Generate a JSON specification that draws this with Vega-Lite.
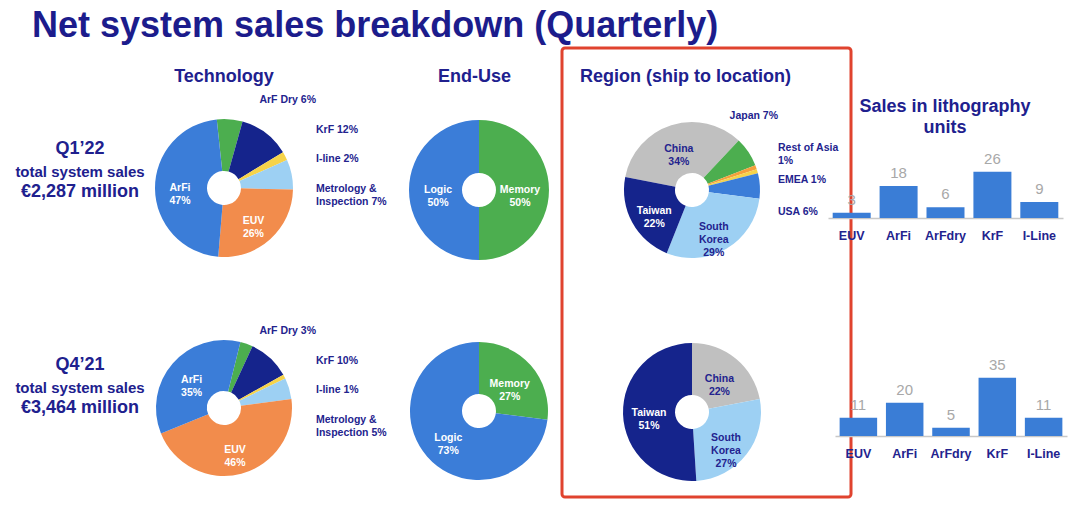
{
  "$schema": "https://vega.github.io/schema/vega-lite/v6.json",
  "background": "white",
  "padding": {"left": 5, "top": 7, "right": 5, "bottom": 5},
  "title": {"text": "Net system sales breakdown (Quarterly)", "anchor": "start", "frame": "group", "fontSize": 36, "dx": 27, "offset": 2, "color": "#1c1c8c"},
  "config": {
    "view": {"stroke": null},
    "font": "Liberation Sans",
    "title": {"font": "Liberation Sans", "fontWeight": "bold", "color": "#20208e", "fontSize": 18},
    "text": {"font": "Liberation Sans"}
  },
  "resolve": {"scale": {"color": "independent", "theta": "independent"}},
  "bounds": "flush",
  "spacing": 0,
  "hconcat": [
    {
      "width": 150, "height": 449,
      "data": {"values": [{"q": "Q1’22", "sales": "€2,287 million"}, {"q": "Q4’21", "sales": "€3,464 million"}]},
      "encoding": {"y": {"field": "q", "type": "nominal", "scale": {"type": "point", "domain": ["Q1’22", "Q4’21"], "padding": 0.5394, "align": 0.5322}, "axis": null}},
      "layer": [
        {"mark": {"type": "text", "fontSize": 18, "fontWeight": "bold", "color": "#20208e", "dy": -23, "baseline": "middle"}, "encoding": {"text": {"field": "q"}}},
        {"mark": {"type": "text", "fontSize": 15, "fontWeight": "bold", "color": "#20208e", "dy": 0, "baseline": "middle"}, "encoding": {"text": {"value": "total system sales"}}},
        {"mark": {"type": "text", "fontSize": 18, "fontWeight": "bold", "color": "#20208e", "dy": 20, "baseline": "middle"}, "encoding": {"text": {"field": "sales"}}}
      ]
    },
    {
      "width": 150, "height": 449,
      "title": {"text": "Technology", "anchor": "middle", "frame": "group", "offset": -38, "dx": -6},
      "data": {"values": [
        {"q": "Q1’22", "cat": "ArF Dry", "pct": 6, "ord": 1, "inL": "", "outL": "ArF Dry 6%"},
        {"q": "Q1’22", "cat": "KrF", "pct": 12, "ord": 2, "inL": "", "outL": "KrF 12%"},
        {"q": "Q1’22", "cat": "I-line", "pct": 2, "ord": 3, "inL": "", "outL": "I-line 2%"},
        {"q": "Q1’22", "cat": "Metrology & Inspection", "pct": 7, "ord": 4, "inL": "", "outL": "Metrology &\nInspection 7%"},
        {"q": "Q1’22", "cat": "EUV", "pct": 26, "ord": 5, "inL": "EUV\n26%", "outL": ""},
        {"q": "Q1’22", "cat": "ArFi", "pct": 47, "ord": 6, "inL": "ArFi\n47%", "outL": ""},
        {"q": "Q4’21", "cat": "ArF Dry", "pct": 3, "ord": 1, "inL": "", "outL": "ArF Dry 3%"},
        {"q": "Q4’21", "cat": "KrF", "pct": 10, "ord": 2, "inL": "", "outL": "KrF 10%"},
        {"q": "Q4’21", "cat": "I-line", "pct": 1, "ord": 3, "inL": "", "outL": "I-line 1%"},
        {"q": "Q4’21", "cat": "Metrology & Inspection", "pct": 5, "ord": 4, "inL": "", "outL": "Metrology &\nInspection 5%"},
        {"q": "Q4’21", "cat": "EUV", "pct": 46, "ord": 5, "inL": "EUV\n46%", "outL": ""},
        {"q": "Q4’21", "cat": "ArFi", "pct": 35, "ord": 6, "inL": "ArFi\n35%", "outL": ""}
      ]},
      "encoding": {
        "x": {"datum": "c", "type": "nominal", "scale": {"type": "point", "padding": 0, "align": 0.46}, "axis": null},
        "y": {"field": "q", "type": "nominal", "scale": {"type": "point", "domain": ["Q1’22", "Q4’21"], "padding": 0.52045, "align": 0.61135}, "axis": null}
      },
      "resolve": {"scale": {"theta": "independent", "y": "independent"}},
      "layer": [
        {
          "transform": [{"filter": "datum.q == 'Q1’22'"}],
          "mark": {"type": "arc", "radius": 69, "radius2": 17},
          "encoding": {
            "theta": {"field": "pct", "type": "quantitative", "stack": true, "scale": {"domain": [0, 100], "range": [-0.1047, 6.1785]}},
            "order": {"field": "ord", "type": "quantitative"},
            "color": {"field": "cat", "type": "nominal", "legend": null, "scale": {"domain": ["ArF Dry", "KrF", "I-line", "Metrology & Inspection", "EUV", "ArFi"], "range": ["#4cae4f", "#15248c", "#f6d34a", "#9dd0f3", "#f28c4c", "#3b7dd8"]}}
          }
        },
        {
          "transform": [{"filter": "datum.q == 'Q4’21'"}],
          "mark": {"type": "arc", "radius": 68, "radius2": 17},
          "encoding": {
            "theta": {"field": "pct", "type": "quantitative", "stack": true, "scale": {"domain": [0, 100], "range": [0.2443, 6.5275]}},
            "order": {"field": "ord", "type": "quantitative"},
            "color": {"field": "cat", "type": "nominal", "legend": null}
          }
        },
        {
          "transform": [{"filter": "datum.q == 'Q1’22'"}],
          "mark": {"type": "text", "radius": 44, "fontSize": 10.5, "fontWeight": "bold", "lineBreak": "\n", "lineHeight": 13, "align": "center", "baseline": "middle", "color": "white"},
          "encoding": {
            "theta": {"field": "pct", "type": "quantitative", "stack": true, "scale": {"domain": [0, 100], "range": [-0.1047, 6.1785]}},
            "order": {"field": "ord", "type": "quantitative"},
            "detail": {"field": "cat"},
            "text": {"field": "inL"}
          }
        },
        {
          "transform": [{"filter": "datum.q == 'Q4’21'"}],
          "mark": {"type": "text", "radius": 43, "fontSize": 10.5, "fontWeight": "bold", "lineBreak": "\n", "lineHeight": 13, "align": "center", "baseline": "middle", "color": "white"},
          "encoding": {
            "theta": {"field": "pct", "type": "quantitative", "stack": true, "scale": {"domain": [0, 100], "range": [0.2443, 6.5275]}},
            "order": {"field": "ord", "type": "quantitative"},
            "detail": {"field": "cat"},
            "text": {"field": "inL"}
          }
        },
        {
          "transform": [{"filter": "datum.q == 'Q1’22' && datum.outL != '' && datum.ord == 1"}],
          "mark": {"type": "text", "dx": 92, "fontSize": 10.5, "fontWeight": "bold", "lineBreak": "\n", "lineHeight": 13, "align": "right", "baseline": "middle", "color": "#23238e"},
          "encoding": {
            "y": {"field": "ord", "type": "quantitative", "scale": {"domain": [-0.763, 14.458], "reverse": true, "nice": false, "zero": false}, "axis": null},
            "text": {"field": "outL"}
          }
        },
        {
          "transform": [{"filter": "datum.q == 'Q1’22' && datum.outL != '' && datum.ord > 1"}],
          "mark": {"type": "text", "dx": 92, "fontSize": 10.5, "fontWeight": "bold", "lineBreak": "\n", "lineHeight": 13, "align": "left", "baseline": "middle", "color": "#23238e"},
          "encoding": {
            "y": {"field": "ord", "type": "quantitative", "scale": {"domain": [-0.763, 14.458], "reverse": true, "nice": false, "zero": false}, "axis": null},
            "text": {"field": "outL"}
          }
        },
        {
          "transform": [{"filter": "datum.q == 'Q4’21' && datum.outL != '' && datum.ord == 1"}],
          "mark": {"type": "text", "dx": 92, "fontSize": 10.5, "fontWeight": "bold", "lineBreak": "\n", "lineHeight": 13, "align": "right", "baseline": "middle", "color": "#23238e"},
          "encoding": {
            "y": {"field": "ord", "type": "quantitative", "scale": {"domain": [-8.593, 6.627], "reverse": true, "nice": false, "zero": false}, "axis": null},
            "text": {"field": "outL"}
          }
        },
        {
          "transform": [{"filter": "datum.q == 'Q4’21' && datum.outL != '' && datum.ord > 1"}],
          "mark": {"type": "text", "dx": 92, "fontSize": 10.5, "fontWeight": "bold", "lineBreak": "\n", "lineHeight": 13, "align": "left", "baseline": "middle", "color": "#23238e"},
          "encoding": {
            "y": {"field": "ord", "type": "quantitative", "scale": {"domain": [-8.593, 6.627], "reverse": true, "nice": false, "zero": false}, "axis": null},
            "text": {"field": "outL"}
          }
        }
      ]
    },
    {
      "width": 257, "height": 449,
      "title": {"text": "End-Use", "anchor": "middle", "frame": "group", "offset": -38, "dx": 41},
      "data": {"values": [
        {"q": "Q1’22", "cat": "Memory", "pct": 50, "ord": 1, "inL": "Memory\n50%"},
        {"q": "Q1’22", "cat": "Logic", "pct": 50, "ord": 2, "inL": "Logic\n50%"},
        {"q": "Q4’21", "cat": "Memory", "pct": 27, "ord": 1, "inL": "Memory\n27%"},
        {"q": "Q4’21", "cat": "Logic", "pct": 73, "ord": 2, "inL": "Logic\n73%"}
      ]},
      "encoding": {
        "x": {"datum": "c", "type": "nominal", "scale": {"type": "point", "padding": 0, "align": 0.677}, "axis": null},
        "y": {"field": "q", "type": "nominal", "scale": {"type": "point", "domain": ["Q1’22", "Q4’21"], "padding": 0.51584, "align": 0.62281}, "axis": null}
      },
      "layer": [
        {
          "transform": [{"filter": "datum.q == 'Q1’22'"}],
          "mark": {"type": "arc", "radius": 70, "radius2": 17},
          "encoding": {
            "theta": {"field": "pct", "type": "quantitative", "stack": true, "scale": {"domain": [0, 100]}},
            "order": {"field": "ord", "type": "quantitative"},
            "color": {"field": "cat", "type": "nominal", "legend": null, "scale": {"domain": ["Memory", "Logic"], "range": ["#4cae4f", "#3b7dd8"]}}
          }
        },
        {
          "transform": [{"filter": "datum.q == 'Q4’21'"}],
          "mark": {"type": "arc", "radius": 69, "radius2": 17},
          "encoding": {
            "theta": {"field": "pct", "type": "quantitative", "stack": true},
            "order": {"field": "ord", "type": "quantitative"},
            "color": {"field": "cat", "type": "nominal", "legend": null}
          }
        },
        {
          "transform": [{"filter": "datum.q == 'Q1’22'"}],
          "mark": {"type": "text", "radius": 41, "fontSize": 10.5, "fontWeight": "bold", "lineBreak": "\n", "lineHeight": 13, "align": "center", "baseline": "middle", "color": "white"},
          "encoding": {
            "theta": {"field": "pct", "type": "quantitative", "stack": true},
            "order": {"field": "ord", "type": "quantitative"},
            "detail": {"field": "cat"},
            "text": {"field": "inL"}
          }
        },
        {
          "transform": [{"filter": "datum.q == 'Q4’21'"}],
          "mark": {"type": "text", "radius": 41, "fontSize": 10.5, "fontWeight": "bold", "lineBreak": "\n", "lineHeight": 13, "align": "center", "baseline": "middle", "color": "white"},
          "encoding": {
            "theta": {"field": "pct", "type": "quantitative", "stack": true},
            "order": {"field": "ord", "type": "quantitative"},
            "detail": {"field": "cat"},
            "text": {"field": "inL"}
          }
        }
      ]
    },
    {
      "width": 289, "height": 449,
      "view": {"stroke": "#e0432e", "strokeWidth": 3, "cornerRadius": 3},
      "title": {"text": "Region (ship to location)", "anchor": "start", "frame": "group", "offset": -38, "dx": 18},
      "data": {"values": [
        {"q": "Q1’22", "cat": "China", "pct": 34, "ord": 1, "inL": "China\n34%", "outL": ""},
        {"q": "Q1’22", "cat": "Japan", "pct": 7, "ord": 2, "inL": "", "outL": "Japan 7%"},
        {"q": "Q1’22", "cat": "Rest of Asia", "pct": 1, "ord": 3, "inL": "", "outL": "Rest of Asia\n1%"},
        {"q": "Q1’22", "cat": "EMEA", "pct": 1, "ord": 4, "inL": "", "outL": "EMEA 1%"},
        {"q": "Q1’22", "cat": "USA", "pct": 6, "ord": 5, "inL": "", "outL": "USA 6%"},
        {"q": "Q1’22", "cat": "South Korea", "pct": 29, "ord": 6, "inL": "South\nKorea\n29%", "outL": ""},
        {"q": "Q1’22", "cat": "Taiwan", "pct": 22, "ord": 7, "inL": "Taiwan\n22%", "outL": ""},
        {"q": "Q4’21", "cat": "China", "pct": 22, "ord": 1, "inL": "China\n22%", "outL": ""},
        {"q": "Q4’21", "cat": "South Korea", "pct": 27, "ord": 6, "inL": "South\nKorea\n27%", "outL": ""},
        {"q": "Q4’21", "cat": "Taiwan", "pct": 51, "ord": 7, "inL": "Taiwan\n51%", "outL": ""}
      ]},
      "encoding": {
        "x": {"datum": "c", "type": "nominal", "scale": {"type": "point", "padding": 0, "align": 0.4498}, "axis": null},
        "y": {"field": "q", "type": "nominal", "scale": {"type": "point", "domain": ["Q1’22", "Q4’21"], "padding": 0.51126, "align": 0.6256}, "axis": null}
      },
      "resolve": {"scale": {"theta": "independent", "y": "independent"}},
      "layer": [
        {
          "transform": [{"filter": "datum.q == 'Q1’22'"}],
          "mark": {"type": "arc", "radius": 68, "radius2": 17},
          "encoding": {
            "theta": {"field": "pct", "type": "quantitative", "stack": true, "scale": {"domain": [0, 100], "range": [-1.3788, 4.9044]}},
            "order": {"field": "ord", "type": "quantitative"},
            "color": {"field": "cat", "type": "nominal", "legend": null, "scale": {"domain": ["China", "Japan", "Rest of Asia", "EMEA", "USA", "South Korea", "Taiwan"], "range": ["#c0c0c0", "#4cae4f", "#f5a03c", "#f6d34a", "#3b7dd8", "#9dd0f3", "#15248c"]}}
          }
        },
        {
          "transform": [{"filter": "datum.q == 'Q4’21'"}],
          "mark": {"type": "arc", "radius": 69, "radius2": 17},
          "encoding": {
            "theta": {"field": "pct", "type": "quantitative", "stack": true, "scale": {"domain": [0, 100], "range": [0, 6.2832]}},
            "order": {"field": "ord", "type": "quantitative"},
            "color": {"field": "cat", "type": "nominal", "legend": null}
          }
        },
        {
          "transform": [{"filter": "datum.q == 'Q1’22'"}],
          "mark": {"type": "text", "radius": 43, "fontSize": 10.5, "fontWeight": "bold", "lineBreak": "\n", "lineHeight": 13, "align": "center", "baseline": "middle"},
          "encoding": {
            "theta": {"field": "pct", "type": "quantitative", "stack": true, "scale": {"domain": [0, 100], "range": [-1.3788, 4.9044]}},
            "order": {"field": "ord", "type": "quantitative"},
            "detail": {"field": "cat"},
            "text": {"field": "inL"},
            "color": {"condition": {"test": "datum.cat == 'Taiwan'", "value": "white"}, "value": "#23238e"}
          }
        },
        {
          "transform": [{"filter": "datum.q == 'Q4’21'"}],
          "mark": {"type": "text", "radius": 43, "fontSize": 10.5, "fontWeight": "bold", "lineBreak": "\n", "lineHeight": 13, "align": "center", "baseline": "middle"},
          "encoding": {
            "theta": {"field": "pct", "type": "quantitative", "stack": true, "scale": {"domain": [0, 100], "range": [0, 6.2832]}},
            "order": {"field": "ord", "type": "quantitative"},
            "detail": {"field": "cat"},
            "text": {"field": "inL"},
            "color": {"condition": {"test": "datum.cat == 'Taiwan'", "value": "white"}, "value": "#23238e"}
          }
        },
        {
          "transform": [{"filter": "datum.outL != '' && datum.ord == 2"}],
          "mark": {"type": "text", "dx": 86, "fontSize": 10.5, "fontWeight": "bold", "lineBreak": "\n", "lineHeight": 13, "align": "right", "baseline": "middle", "color": "#23238e"},
          "encoding": {
            "y": {"field": "ord", "type": "quantitative", "scale": {"domain": [-0.125, 13.906], "reverse": true, "nice": false, "zero": false}, "axis": null},
            "text": {"field": "outL"}
          }
        },
        {
          "transform": [{"filter": "datum.outL != '' && datum.ord > 2"}],
          "mark": {"type": "text", "dx": 86, "fontSize": 10.5, "fontWeight": "bold", "lineBreak": "\n", "lineHeight": 13, "align": "left", "baseline": "middle", "color": "#23238e"},
          "encoding": {
            "y": {"field": "ord", "type": "quantitative", "scale": {"domain": [-0.125, 13.906], "reverse": true, "nice": false, "zero": false}, "axis": null},
            "text": {"field": "outL"}
          }
        }
      ]
    },
    {
      "bounds": "flush",
      "spacing": 48,
      "vconcat": [
        {
          "width": 212, "height": 170,
          "title": {"text": ["Sales in lithography", "units"], "anchor": "middle", "frame": "group", "offset": -89, "lineHeight": 21, "dx": -12},
          "data": {"values": [
            {"tool": "EUV", "units": 3}, {"tool": "ArFi", "units": 18}, {"tool": "ArFdry", "units": 6}, {"tool": "KrF", "units": 26}, {"tool": "I-Line", "units": 9}
          ]},
          "encoding": {
            "x": {"field": "tool", "type": "nominal", "sort": null, "scale": {"paddingInner": 0.19, "paddingOuter": 0.1, "range": [-23, 212]}, "axis": {"title": null, "labelAngle": 0, "ticks": false, "tickSize": 0, "labelPadding": 11, "labelFontSize": 12.5, "labelFontWeight": "bold", "labelColor": "#23238e", "labelFont": "Liberation Sans", "domainColor": "#c8c8c8", "domainWidth": 1.5}},
            "y": {"field": "units", "type": "quantitative", "scale": {"domain": [0, 95.5], "nice": false}, "axis": null}
          },
          "layer": [
            {"mark": {"type": "bar", "color": "#3a7dd6"}},
            {"mark": {"type": "text", "dy": -13, "baseline": "middle", "fontSize": 15, "color": "#a8a8a8"}, "encoding": {"text": {"field": "units"}}}
          ]
        },
        {
          "width": 212, "height": 170,
          "data": {"values": [
            {"tool": "EUV", "units": 11}, {"tool": "ArFi", "units": 20}, {"tool": "ArFdry", "units": 5}, {"tool": "KrF", "units": 35}, {"tool": "I-Line", "units": 11}
          ]},
          "encoding": {
            "x": {"field": "tool", "type": "nominal", "sort": null, "scale": {"paddingInner": 0.19, "paddingOuter": 0.1, "range": [-16, 216]}, "axis": {"title": null, "labelAngle": 0, "ticks": false, "tickSize": 0, "labelPadding": 11, "labelFontSize": 12.5, "labelFontWeight": "bold", "labelColor": "#23238e", "labelFont": "Liberation Sans", "domainColor": "#c8c8c8", "domainWidth": 1.5}},
            "y": {"field": "units", "type": "quantitative", "scale": {"domain": [0, 102], "nice": false}, "axis": null}
          },
          "layer": [
            {"mark": {"type": "bar", "color": "#3a7dd6"}},
            {"mark": {"type": "text", "dy": -13, "baseline": "middle", "fontSize": 15, "color": "#a8a8a8"}, "encoding": {"text": {"field": "units"}}}
          ]
        }
      ]
    }
  ]
}
